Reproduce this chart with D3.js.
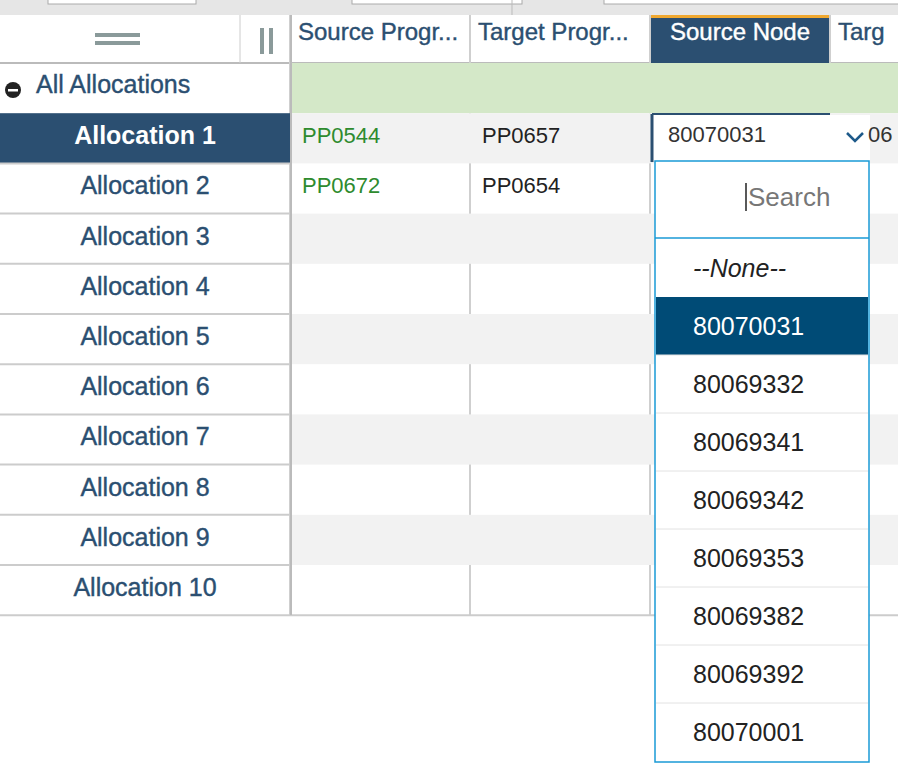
<!DOCTYPE html>
<html><head><meta charset="utf-8">
<script src="https://cdn.jsdelivr.net/npm/d3@7"></script>
<style>body{margin:0;background:#fff}text{font-family:"Liberation Sans",Arial,sans-serif}.nar{font-family:"Liberation Sans Narrow","Liberation Sans",Arial,sans-serif}</style>
</head><body>
<svg id="grid" width="898" height="770"></svg>
<script>
var headers = ['Source Progr...', 'Target Progr...', 'Source Node', 'Targ'];
var rowLabels = ['Allocation 1','Allocation 2','Allocation 3','Allocation 4','Allocation 5','Allocation 6','Allocation 7','Allocation 8','Allocation 9','Allocation 10'];
var sourceProg = ['PP0544', 'PP0672'];
var targetProg = ['PP0657', 'PP0654'];
var options = ['--None--','80070031','80069332','80069341','80069342','80069353','80069382','80069392','80070001'];
var selected = '80070031';

var svg = d3.select('#grid');
var colX = [290, 470, 650, 830, 1010];
var headTop = 15, headH = 48, rowH = 50.2;
var rowY = d3.scaleLinear().domain([0, 1]).range([headTop + headH, headTop + headH + rowH]);

// top toolbar
svg.append('rect').attr('width', 898).attr('height', headTop).attr('fill', '#e6e6e6');
svg.append('rect').attr('x', 48).attr('y', -2).attr('width', 148).attr('height', 6).attr('fill', '#fff').attr('stroke', '#aaa');
svg.append('rect').attr('x', 352).attr('y', -2).attr('width', 170).attr('height', 6).attr('fill', '#fff').attr('stroke', '#aaa');
svg.append('rect').attr('x', 604).attr('y', -2).attr('width', 300).attr('height', 6).attr('fill', '#fff').attr('stroke', '#aaa');
svg.append('line').attr('x1', 512).attr('x2', 512).attr('y1', 0).attr('y2', headTop).attr('stroke', '#bbb');

// header
svg.append('line').attr('x1', 0).attr('x2', 898).attr('y1', headTop + headH).attr('y2', headTop + headH).attr('stroke', '#bbb').attr('stroke-width', 2);
svg.append('line').attr('x1', 240).attr('x2', 240).attr('y1', headTop).attr('y2', headTop + headH).attr('stroke', '#ccc');
[0, 8].forEach(function(d){
	svg.append('rect').attr('x', 95).attr('y', 33 + d).attr('width', 45).attr('height', 4).attr('fill', '#8a9a9a');
});
[0, 9].forEach(function(d){
	svg.append('rect').attr('x', 260 + d).attr('y', 28).attr('width', 4).attr('height', 26).attr('fill', '#8a9a9a');
});
headers.forEach(function(h, i){
	var x = colX[i], w = colX[i + 1] - x;
	var active = h === 'Source Node';
	if (active) {
		svg.append('rect').attr('x', x).attr('y', headTop).attr('width', w).attr('height', headH).attr('fill', '#2b4f71');
		svg.append('rect').attr('x', x).attr('y', headTop).attr('width', w).attr('height', 3).attr('fill', '#f0a830');
	}
	svg.append('line').attr('x1', x).attr('x2', x).attr('y1', headTop).attr('y2', 615).attr('stroke', '#cfcfcf').attr('stroke-width', 2);
	svg.append('text').attr('class', 'nar').attr('x', active ? x + 90 : x + 8).attr('y', headTop + 25)
		.attr('text-anchor', active ? 'middle' : 'start')
		.attr('font-size', 24)
		.attr('fill', active ? '#fff' : '#2b4f71')
		.attr('stroke', active ? '#fff' : '#2b4f71').attr('stroke-width', 0.4)
		.text(h);
});

// all allocations row
svg.append('rect').attr('x', 292).attr('y', rowY(0)).attr('width', 606).attr('height', rowH).attr('fill', '#d4e8c8');
svg.append('circle').attr('cx', 13).attr('cy', rowY(0) + 27).attr('r', 8).attr('fill', '#222');
svg.append('rect').attr('x', 8).attr('y', rowY(0) + 26).attr('width', 10).attr('height', 2.5).attr('fill', '#fff');
svg.append('text').attr('class', 'nar').attr('x', 36).attr('y', rowY(0) + 30).attr('font-size', 25)
	.attr('fill', '#2b4f71').attr('stroke', '#2b4f71').attr('stroke-width', 0.4).text('All Allocations');

// allocation rows
rowLabels.forEach(function(r, i){
	var y = rowY(i + 1);
	if (i % 2 === 0) svg.append('rect').attr('x', 292).attr('y', y).attr('width', 606).attr('height', rowH).attr('fill', '#f2f2f2');
	if (i === 0) svg.append('rect').attr('x', 0).attr('y', y).attr('width', 290).attr('height', rowH).attr('fill', '#2b4f71');
	svg.append('line').attr('x1', 0).attr('x2', i === 9 ? 898 : 292).attr('y1', y + rowH).attr('y2', y + rowH).attr('stroke', '#ccc').attr('stroke-width', 2);
	svg.append('text').attr('class', 'nar').attr('x', 145).attr('y', y + 31).attr('text-anchor', 'middle')
		.attr('font-size', 25).attr('font-weight', i === 0 ? 'bold' : 'normal')
		.attr('fill', i === 0 ? '#fff' : '#2b4f71')
		.attr('stroke', i === 0 ? 'none' : '#2b4f71').attr('stroke-width', 0.4).text(r);
});
svg.append('line').attr('x1', 291).attr('x2', 291).attr('y1', headTop).attr('y2', 615).attr('stroke', '#bbb').attr('stroke-width', 2);

sourceProg.forEach(function(v, i){
	svg.append('text').attr('x', 302).attr('y', rowY(i + 1) + 30).attr('font-size', 22).attr('fill', '#2e8b2e').text(v);
});
targetProg.forEach(function(v, i){
	svg.append('text').attr('x', 482).attr('y', rowY(i + 1) + 30).attr('font-size', 22).attr('fill', '#222').text(v);
});

// editor cell
svg.append('rect').attr('x', 652).attr('y', 115).attr('width', 218).attr('height', 46).attr('fill', '#fff');
svg.append('line').attr('x1', 652).attr('x2', 652).attr('y1', 114).attr('y2', 162).attr('stroke', '#2b4f71').attr('stroke-width', 3);
svg.append('line').attr('x1', 652).attr('x2', 830).attr('y1', 114).attr('y2', 114).attr('stroke', '#2b4f71').attr('stroke-width', 2);
svg.append('text').attr('x', 668).attr('y', 142).attr('font-size', 22).attr('fill', '#333').text(selected);
svg.append('path').attr('d', 'M847,133 L855,141 L863,133').attr('fill', 'none').attr('stroke', '#1e5a8a').attr('stroke-width', 2.5);
svg.append('text').attr('x', 868).attr('y', 142).attr('font-size', 22).attr('fill', '#333').text('06');

// dropdown
var ddTop = 161, itemH = 58;
var itemY = d3.scaleLinear().domain([0, 1]).range([ddTop + 78, ddTop + 78 + itemH]);
svg.append('rect').attr('x', 655).attr('y', ddTop).attr('width', 214).attr('height', 601).attr('fill', '#fff').attr('stroke', '#1a9ad6').attr('stroke-width', 1.5);
svg.append('line').attr('x1', 655).attr('x2', 869).attr('y1', ddTop + 77).attr('y2', ddTop + 77).attr('stroke', '#1a9ad6').attr('stroke-width', 1.5);
svg.append('line').attr('x1', 746).attr('x2', 746).attr('y1', ddTop + 22).attr('y2', ddTop + 50).attr('stroke', '#222').attr('stroke-width', 1.5);
svg.append('text').attr('x', 748).attr('y', ddTop + 45).attr('font-size', 26).attr('fill', '#777').text('Search');
options.forEach(function(o, i){
	var y = itemY(i), sel = o === selected;
	if (sel) svg.append('rect').attr('x', 656).attr('y', y).attr('width', 212).attr('height', itemH).attr('fill', '#004b76');
	if (i > 1) svg.append('line').attr('x1', 656).attr('x2', 868).attr('y1', y).attr('y2', y).attr('stroke', '#e2e2e2');
	svg.append('text').attr('x', 693).attr('y', y + 38).attr('font-size', 25)
		.attr('font-style', i === 0 ? 'italic' : 'normal')
		.attr('fill', sel ? '#fff' : '#222').text(o);
});
</script>
</body></html>
